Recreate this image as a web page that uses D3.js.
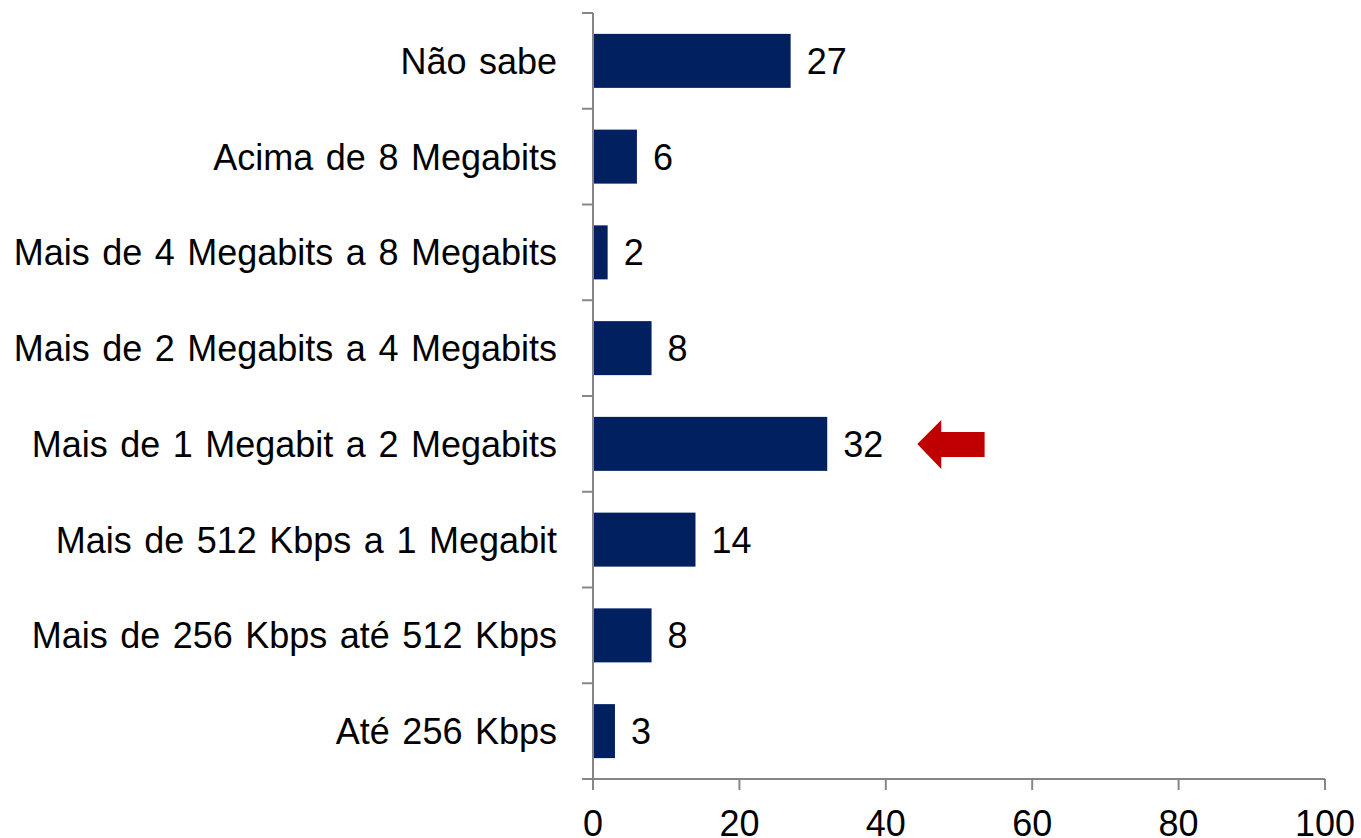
<!DOCTYPE html>
<html><head><meta charset="utf-8">
<script src="https://cdn.jsdelivr.net/npm/d3@7"></script>
<style>body{margin:0;background:#fff}svg{display:block}text{font-family:"Liberation Sans",Arial,sans-serif}</style>
</head><body><svg id="c" width="1361" height="838"></svg>
<script>
const categories = ["Não sabe","Acima de 8 Megabits","Mais de 4 Megabits a 8 Megabits","Mais de 2 Megabits a 4 Megabits","Mais de 1 Megabit a 2 Megabits","Mais de 512 Kbps a 1 Megabit","Mais de 256 Kbps até 512 Kbps","Até 256 Kbps"];
const values = [27, 6, 2, 8, 32, 14, 8, 3];
const xTicks = [0, 20, 40, 60, 80, 100];
const highlight = "Mais de 1 Megabit a 2 Megabits";
const arrowRange = [44.3, 53.5];

const svg = d3.select("#c");
const fs = 36;
const axisColor = "#868686";
const p = 0.436;
const x = d3.scaleLinear().domain([0, 100]).range([593, 1325]);
const y = d3.scaleBand().domain(categories).range([13, 779]).paddingInner(p).paddingOuter(p/2);

// bars
svg.selectAll("rect.bar").data(categories).join("rect")
  .attr("x", x(0)).attr("y", d => y(d))
  .attr("width", (d,i) => x(values[i]) - x(0)).attr("height", y.bandwidth())
  .attr("fill", "#002060");

// y axis
svg.append("line").attr("x1", x(0)).attr("x2", x(0)).attr("y1", y.range()[0]).attr("y2", y.range()[1])
  .attr("stroke", axisColor).attr("stroke-width", 2);
const bounds = categories.map(c => y(c) - y.step()*p/2).concat([y.range()[1]]);
svg.selectAll("line.yt").data(bounds).join("line")
  .attr("x1", x(0) - 11).attr("x2", x(0)).attr("y1", d => d).attr("y2", d => d)
  .attr("stroke", axisColor).attr("stroke-width", 2);

// x axis
svg.append("line").attr("x1", x(0) - 11).attr("x2", x(100)).attr("y1", y.range()[1]).attr("y2", y.range()[1])
  .attr("stroke", axisColor).attr("stroke-width", 2);
svg.selectAll("line.xt").data(xTicks).join("line")
  .attr("x1", d => x(d)).attr("x2", d => x(d)).attr("y1", y.range()[1]).attr("y2", y.range()[1] + 11)
  .attr("stroke", axisColor).attr("stroke-width", 2);
svg.selectAll("text.xl").data(xTicks).join("text")
  .attr("x", d => x(d)).attr("y", 836).attr("text-anchor", "middle")
  .attr("font-size", fs).attr("fill", "#000").text(d => d);

// category labels
svg.selectAll("text.cl").data(categories).join("text")
  .attr("x", 557).attr("y", d => y(d) + y.bandwidth()/2 + 13).attr("text-anchor", "end")
  .attr("font-size", fs).attr("word-spacing", "2.5px").attr("fill", "#000").text(d => d);

// value labels
svg.selectAll("text.vl").data(categories).join("text")
  .attr("x", (d,i) => x(values[i]) + 16).attr("y", d => y(d) + y.bandwidth()/2 + 13)
  .attr("font-size", fs).attr("fill", "#000").text((d,i) => values[i]);

// arrow
const cy = y(highlight) + y.bandwidth()/2;
const tx = x(arrowRange[0]), ex = x(arrowRange[1]), hx = tx + 24;
svg.append("path")
  .attr("d", `M${tx},${cy} L${hx},${cy-24} L${hx},${cy-12} L${ex},${cy-12} L${ex},${cy+13} L${hx},${cy+13} L${hx},${cy+25} Z`)
  .attr("fill", "#c00000");
</script></body></html>
